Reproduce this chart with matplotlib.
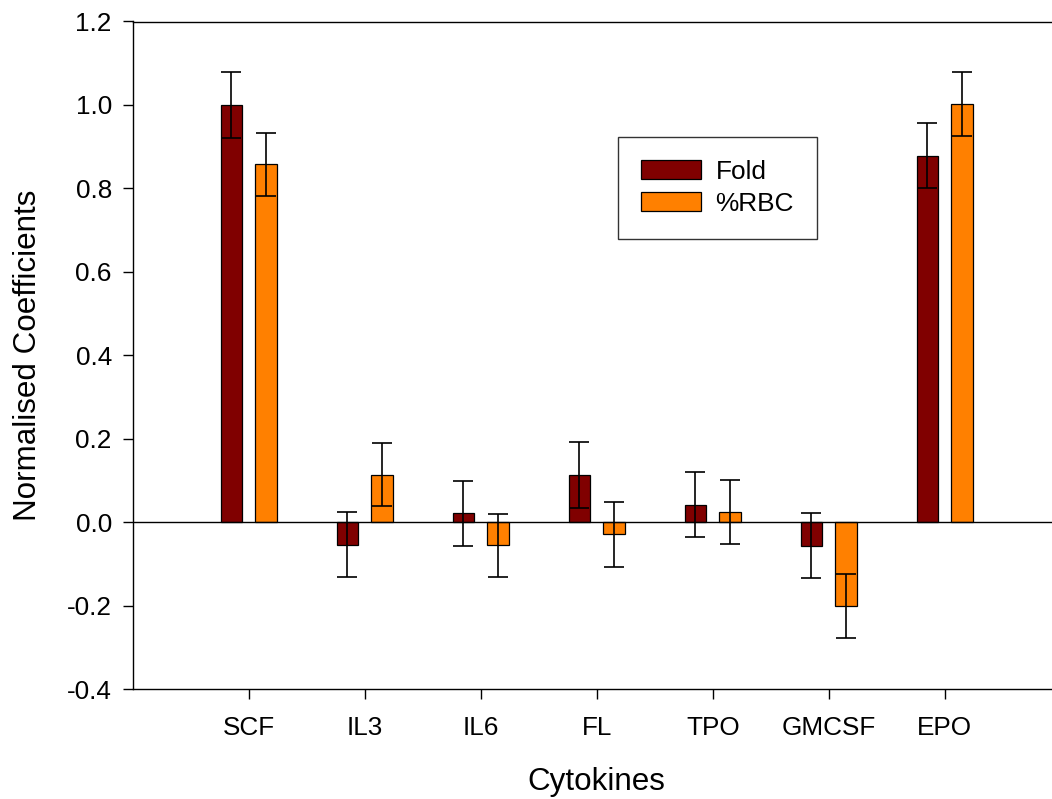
import numpy as np
import matplotlib
matplotlib.use('Agg')
import matplotlib.pyplot as plt
from matplotlib.ticker import FormatStrFormatter

plt.rcParams['font.family'] = ['Liberation Sans', 'DejaVu Sans']
plt.rcParams['axes.unicode_minus'] = False

# datos
cytokines = ['SCF', 'IL3', 'IL6', 'FL', 'TPO', 'GMCSF', 'EPO']
fold = [1.0, -0.054, 0.022, 0.114, 0.042, -0.056, 0.878]
fold_err = [0.078, 0.078, 0.078, 0.079, 0.078, 0.078, 0.078]
rbc = [0.858, 0.114, -0.055, -0.029, 0.025, -0.200, 1.002]
rbc_err = [0.076, 0.076, 0.076, 0.077, 0.076, 0.077, 0.077]
yticks = [-0.4, -0.2, 0.0, 0.2, 0.4, 0.6, 0.8, 1.0, 1.2]

color_fold = '#800000'
color_rbc = '#FF8000'

fig = plt.figure(figsize=(10.52, 7.99), dpi=100)
ax = fig.add_axes([132.7 / 1052, 1 - 689.3 / 799, (1060.7 - 132.7) / 1052, (689.3 - 21.5) / 799])

x = np.arange(len(cytokines))
ancho = 0.184
off = 0.15

ax.bar(x - off, fold, ancho, color=color_fold, edgecolor='black', linewidth=0.9, label='Fold', zorder=2)
ax.bar(x + off, rbc, ancho, color=color_rbc, edgecolor='black', linewidth=0.9, label='%RBC', zorder=2)
ax.errorbar(x - off, fold, yerr=fold_err, fmt='none', ecolor='black', elinewidth=1.2,
            capsize=7.3, capthick=1.2, zorder=3)
ax.errorbar(x + off, rbc, yerr=rbc_err, fmt='none', ecolor='black', elinewidth=1.2,
            capsize=7.3, capthick=1.2, zorder=3)
ax.axhline(0, color='black', linewidth=1.0, zorder=4)

ax.set_xlim(-1, 7)
ax.set_ylim(-0.4, 1.2)
ax.set_yticks(yticks)
ax.yaxis.set_major_formatter(FormatStrFormatter('%.1f'))
ax.set_xticks(x)
ax.set_xticklabels(cytokines)

for s in ['left', 'bottom', 'top']:
    ax.spines[s].set_linewidth(1.0)
ax.spines['right'].set_visible(False)
ax.tick_params(axis='both', direction='out', length=7, width=1.0, labelsize=18.8)
ax.tick_params(axis='y', pad=8)
ax.tick_params(axis='x', pad=12)

ax.set_xlabel('Cytokines', fontsize=22.6, labelpad=20)
ax.set_ylabel('Normalised Coefficients', fontsize=22.6, labelpad=17)

leg = ax.legend(loc='upper left', bbox_to_anchor=(617.7 / 1052, 1 - 136.7 / 799),
                bbox_transform=fig.transFigure, fontsize=18.9, frameon=True, fancybox=False,
                handlelength=2.28, handleheight=0.72, handletextpad=0.57, borderpad=0.88,
                borderaxespad=0, labelspacing=0.3)
leg.get_frame().set_edgecolor('black')
leg.get_frame().set_linewidth(1.0)

fig.savefig('out.png', dpi=100)
